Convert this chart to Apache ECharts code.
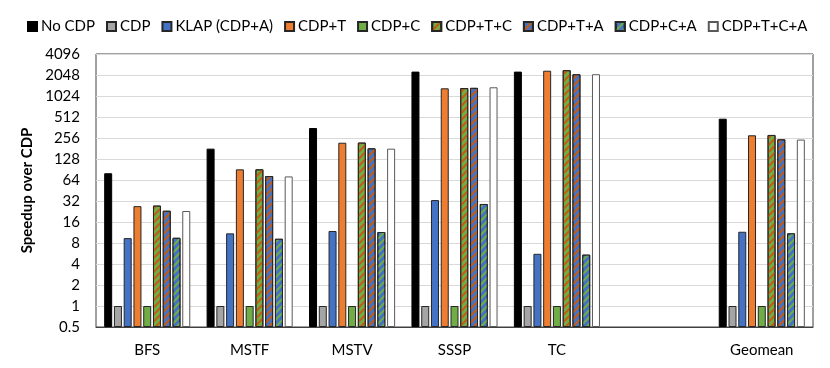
<!DOCTYPE html>
<html>
<head>
<meta charset="utf-8">
<script src="https://cdn.jsdelivr.net/npm/echarts@6/dist/echarts.min.js"></script>
<style>
  html, body { margin: 0; padding: 0; background: #fff; }
  #main { width: 830px; height: 368px; }
</style>
</head>
<body>
<div id="main"></div>
<script>
var categories = ['BFS', 'MSTF', 'MSTV', 'SSSP', 'TC', '', 'Geomean'];
var yTicks = [0.5, 1, 2, 4, 8, 16, 32, 64, 128, 256, 512, 1024, 2048, 4096];

var noCdp   = [80, 180, 356, 2290, 2290, '-', 484];
var cdp     = [1, 1, 1, 1, 1, '-', 1];
var klap    = [9.4, 11, 11.9, 33, 5.6, '-', 11.6];
var cdpT    = [27, 91, 219, 1320, 2360, '-', 280];
var cdpC    = [1, 1, 1, 1, 1, '-', 1];
var cdpTC   = [27.5, 91, 220, 1330, 2400, '-', 283];
var cdpTA   = [23.2, 73, 182, 1340, 2100, '-', 245];
var cdpCA   = [9.5, 9.2, 11.5, 29, 5.45, '-', 11];
var cdpTCA  = [23, 72, 180, 1365, 2100, '-', 243];

// ECharts starts log-axis bars at 1, the chart's bars start at 0.5:
// plot everything at twice its value and halve the tick labels.
var shift = 2;
function up(arr) {
  return arr.map(function (v) { return v === '-' ? '-' : v * shift; });
}

var myChart = echarts.init(document.getElementById('main'));
var font = 'Lato';

// diagonal "/" hatch
function stripes(c) {
  return {
    symbol: 'rect',
    symbolSize: 1,
    color: c,
    dashArrayX: [1, 0],
    dashArrayY: [2, 3],
    rotation: -Math.PI / 4
  };
}

function bar(name, data, color, border, decal) {
  var s = {
    name: name,
    type: 'bar',
    data: up(data),
    barWidth: 8,
    barGap: '22%',
    itemStyle: {
      color: color,
      borderColor: border,
      borderWidth: 1
    }
  };
  if (decal) s.itemStyle.decal = decal;
  return s;
}

var option = {
  animation: false,
  legend: {
    left: 22,
    top: 14,
    itemWidth: 9,
    itemHeight: 9,
    itemGap: 11,
    icon: 'rect',
    textStyle: { fontFamily: font, fontSize: 15, color: '#000', padding: [0, 0, 0, -1] }
  },
  grid: {
    left: 96,
    right: 17,
    top: 54,
    bottom: 41,
    show: true,
    borderColor: '#404040',
    borderWidth: 1
  },
  xAxis: {
    type: 'category',
    data: categories,
    axisTick: { show: false },
    axisLine: { lineStyle: { color: '#404040' } },
    axisLabel: { fontFamily: font, fontSize: 15, color: '#000', margin: 16 }
  },
  yAxis: {
    type: 'log',
    logBase: 2,
    min: yTicks[0] * shift,
    max: yTicks[yTicks.length - 1] * shift,
    interval: 1,
    name: 'Speedup over CDP',
    nameLocation: 'middle',
    nameGap: 56,
    nameTextStyle: { fontFamily: font, fontSize: 15, fontWeight: 'bold', color: '#000' },
    axisLine: { show: false },
    axisTick: { show: false },
    splitLine: { lineStyle: { color: '#d9d9d9', width: 1 } },
    axisLabel: {
      fontFamily: font, fontSize: 15, color: '#000', margin: 16,
      formatter: function (v) { return String(+(v / shift).toPrecision(4)); }
    }
  },
  series: [
    bar('No CDP', noCdp, '#000000', '#000000'),
    bar('CDP', cdp, '#a5a5a5', '#262626'),
    bar('KLAP (CDP+A)', klap, '#4472c4', '#262626'),
    bar('CDP+T', cdpT, '#ed7d31', '#262626'),
    bar('CDP+C', cdpC, '#70ad47', '#262626'),
    bar('CDP+T+C', cdpTC, '#70ad47', '#262626', stripes('#c55a11')),
    bar('CDP+T+A', cdpTA, '#4472c4', '#262626', stripes('#c55a11')),
    bar('CDP+C+A', cdpCA, '#4472c4', '#262626', stripes('#70ad47')),
    bar('CDP+T+C+A', cdpTCA, '#ffffff', '#595959')
  ]
};

option && myChart.setOption(option);
</script>
</body>
</html>
